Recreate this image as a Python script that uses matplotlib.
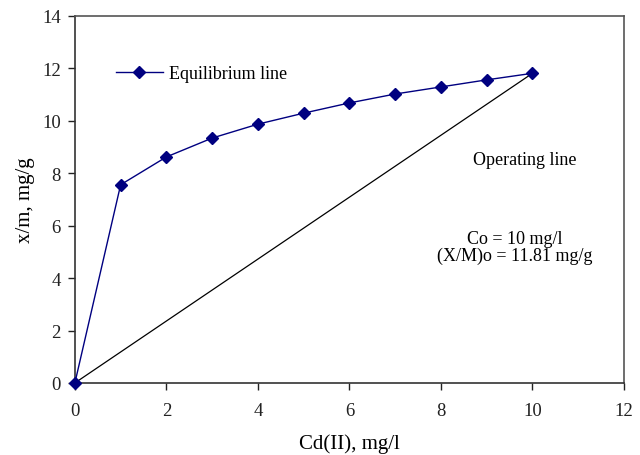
import numpy as np
import matplotlib
matplotlib.use("Agg")
import matplotlib.pyplot as plt
from matplotlib.lines import Line2D

plt.rcParams["font.family"] = ["Liberation Serif", "DejaVu Serif"]

# ── data ──────────────────────────────────────────────────────────────────────
ce = [0, 1, 2, 3, 4, 5, 6, 7, 8, 9, 10]
qe = [0, 7.56, 8.62, 9.34, 9.87, 10.29, 10.68, 11.02, 11.29, 11.56, 11.81]
op_x = [0, 10]
op_y = [0, 11.81]

NAVY = "#000080"

fig = plt.figure(figsize=(6.4, 4.56), dpi=100)
ax = fig.add_axes([0.117, 0.158, 0.858, 0.805])

ax.plot(ce, qe, color=NAVY, lw=1.0, marker="D", ms=6, mfc=NAVY, mec=NAVY,
        zorder=3, clip_on=False)
ax.plot(op_x, op_y, color="black", lw=0.9, zorder=2)

ax.set_xlim(0, 12)
ax.set_ylim(0, 14)
ax.set_xticks(np.arange(0, 13, 2))
ax.set_yticks(np.arange(0, 15, 2))
ax.tick_params(direction="out", length=5, width=1, labelsize=13.5,
               colors="#222222")
ax.tick_params(axis="x", pad=9)
ax.tick_params(axis="y", pad=5)
for s in ["top", "right"]:
    ax.spines[s].set_color("#555555")
    ax.spines[s].set_linewidth(1.2)
for s in ["left", "bottom"]:
    ax.spines[s].set_color("#333333")
    ax.spines[s].set_linewidth(1.2)

ax.set_xlabel("Cd(II), mg/l", fontsize=15, labelpad=10)
ax.set_ylabel("x/m, mg/g", fontsize=15, labelpad=5)

handle = Line2D([], [], color=NAVY, lw=1.0, marker="D", ms=6, mfc=NAVY, mec=NAVY)
ax.legend([handle], ["Equilibrium line"], loc="upper left",
          bbox_to_anchor=(0.045, 0.91), frameon=False, fontsize=13,
          handlelength=2.6, handletextpad=0.35)

ax.text(9.84, 8.53, "Operating line", fontsize=13, ha="center", va="center")
ax.text(9.62, 5.52, "Co = 10 mg/l", fontsize=13, ha="center", va="center")
ax.text(9.62, 4.85, "(X/M)o = 11.81 mg/g", fontsize=13, ha="center", va="center")

plt.savefig("out.png", dpi=100)
plt.close()
